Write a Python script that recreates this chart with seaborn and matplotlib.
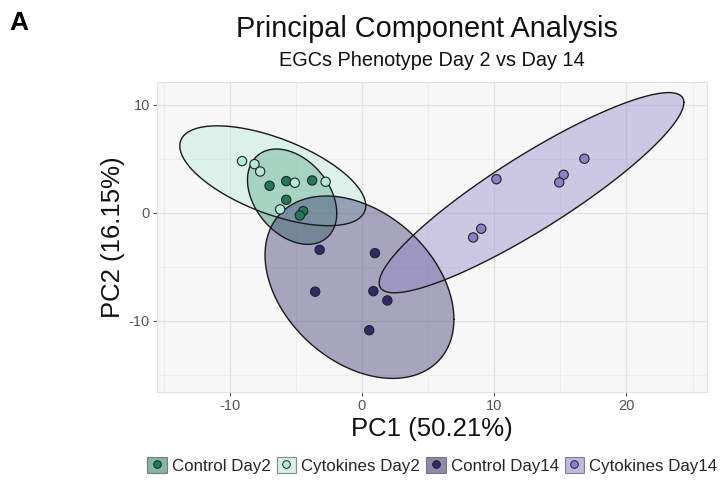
import numpy as np
import pandas as pd
import matplotlib
matplotlib.use("Agg")
import matplotlib.pyplot as plt
from matplotlib.patches import Patch
from matplotlib.lines import Line2D
from matplotlib.legend_handler import HandlerTuple
from matplotlib.ticker import MultipleLocator
import seaborn as sns

# PCA scores per sample group
groups = ["Control Day2", "Cytokines Day2", "Control Day14", "Cytokines Day14"]
pc1_control_d2 = [-6.99, -5.73, -3.77, -5.73, -4.45, -4.70]
pc2_control_d2 = [2.50, 2.93, 2.99, 1.20, 0.15, -0.25]
pc1_cytokines_d2 = [-9.07, -8.13, -7.70, -5.08, -2.75, -6.19]
pc2_cytokines_d2 = [4.78, 4.50, 3.82, 2.78, 2.87, 0.31]
pc1_control_d14 = [-3.20, 0.98, -3.54, 0.86, 1.92, 0.55]
pc2_control_d14 = [-3.43, -3.74, -7.31, -7.26, -8.12, -10.88]
pc1_cytokines_d14 = [10.17, 15.25, 14.92, 16.82, 9.02, 8.41]
pc2_cytokines_d14 = [3.11, 3.52, 2.81, 5.00, -1.48, -2.29]

pc1_label = "PC1 (50.21%)"
pc2_label = "PC2 (16.15%)"

palette = {
    "Control Day2": "#1f7a5b",
    "Cytokines Day2": "#b3ead6",
    "Control Day14": "#312a6a",
    "Cytokines Day14": "#8c81c6",
}

df = pd.DataFrame({
    "PC1": pc1_control_d2 + pc1_cytokines_d2 + pc1_control_d14 + pc1_cytokines_d14,
    "PC2": pc2_control_d2 + pc2_cytokines_d2 + pc2_control_d14 + pc2_cytokines_d14,
    "Group": sum([[g] * 6 for g in groups], []),
})


def cov_trob(X, nu=5, maxit=25, tol=0.01):
    """Robust multivariate-t location/scatter estimate."""
    n, p = X.shape
    wt = np.ones(n)
    loc = X.mean(axis=0)
    w = np.sqrt(wt)
    Xc = X - loc
    for _ in range(maxit):
        w0 = w
        Xc = X - loc
        _, d, vt = np.linalg.svd(np.sqrt(wt / wt.sum())[:, None] * Xc,
                                 full_matrices=False)
        wX = Xc @ vt.T @ np.diag(1.0 / d)
        Q = (wX ** 2).sum(axis=1)
        w = wt * (nu + p) / (nu + Q)
        loc = (w[:, None] * X).sum(axis=0) / w.sum()
        if np.all(np.abs(w - w0) < tol):
            break
    sX = np.sqrt(w)[:, None] * Xc
    return loc, sX.T @ sX / wt.sum()


def confidence_ellipse(x, y, level=0.95, segments=120):
    X = np.column_stack([x, y])
    n = len(X)
    center, shape = cov_trob(X)
    dfd = n - 1
    # F(2, dfd) quantile has a closed form
    fq = (dfd / 2.0) * ((1 - level) ** (-2.0 / dfd) - 1)
    radius = np.sqrt(2 * fq)
    R = np.linalg.cholesky(shape).T
    ang = np.linspace(0, 2 * np.pi, segments + 1)
    circ = np.column_stack([np.cos(ang), np.sin(ang)])
    pts = center + radius * (circ @ R)
    return pts[:, 0], pts[:, 1]


sns.set_theme(style="whitegrid")
plt.rcParams["font.family"] = ["Liberation Sans", "DejaVu Sans"]
plt.rcParams["axes.unicode_minus"] = False

fig = plt.figure(figsize=(7.23, 4.80), dpi=100)
ax = fig.add_axes([0.2172, 0.1833, 0.7608, 0.6457])
ax.set_facecolor("#f7f7f7")

for g in groups:
    sub = df[df["Group"] == g]
    ex, ey = confidence_ellipse(sub["PC1"].values, sub["PC2"].values)
    ax.fill(ex, ey, facecolor=palette[g], alpha=0.4, edgecolor="none", zorder=2)
    ax.plot(ex, ey, color="#1a1a1a", lw=1.0, zorder=2.5)

sns.scatterplot(data=df, x="PC1", y="PC2", hue="Group", palette=palette,
                hue_order=groups, s=45, edgecolor="#222222", linewidth=0.8,
                legend=False, ax=ax, zorder=3)

ax.set_xlim(-15.5, 26.1)
ax.set_ylim(-16.6, 12.1)
ax.xaxis.set_major_locator(MultipleLocator(10))
ax.yaxis.set_major_locator(MultipleLocator(10))
ax.xaxis.set_minor_locator(MultipleLocator(5))
ax.yaxis.set_minor_locator(MultipleLocator(5))
ax.grid(which="major", color="#e3e3e3", lw=0.9)
ax.grid(which="minor", color="#ececec", lw=0.6)
ax.set_axisbelow(True)
for s in ax.spines.values():
    s.set_color("#e2e2e2")
    s.set_linewidth(0.8)
ax.tick_params(axis="both", which="major", length=3, width=0.8, color="#555555",
               labelcolor="#555555", labelsize=10.5, pad=2, bottom=True, left=True)
ax.tick_params(which="minor", length=0)

ax.set_xlabel(pc1_label, fontsize=18.5, color="#111111", labelpad=3)
ax.set_ylabel(pc2_label, fontsize=18.5, color="#111111", labelpad=3)

fig.text(0.590, 0.940, "Principal Component Analysis", ha="center",
         va="center", fontsize=20.8, color="#111111")
fig.text(0.5975, 0.874, "EGCs Phenotype Day 2 vs Day 14", ha="center",
         va="center", fontsize=14.3, color="#111111")
fig.text(0.013, 0.952, "A", ha="left", va="center", fontsize=19,
         fontweight="bold", color="#000000")

handles = []
for g in groups:
    box = Patch(facecolor=palette[g], alpha=0.55, edgecolor="#333333", lw=0.8)
    dot = Line2D([], [], marker="o", linestyle="none", markersize=5.5,
                 markerfacecolor=palette[g], markeredgecolor="#222222",
                 markeredgewidth=0.7)
    handles.append((box, dot))

fig.legend(handles, groups, handler_map={tuple: HandlerTuple(ndivide=1)},
           loc="center", bbox_to_anchor=(0.598, 0.031), ncol=4, frameon=False,
           fontsize=12.2, handlelength=1.15, handleheight=1.15,
           handletextpad=0.3, columnspacing=0.35, borderpad=0.2)

fig.savefig("out.png", dpi=100)
